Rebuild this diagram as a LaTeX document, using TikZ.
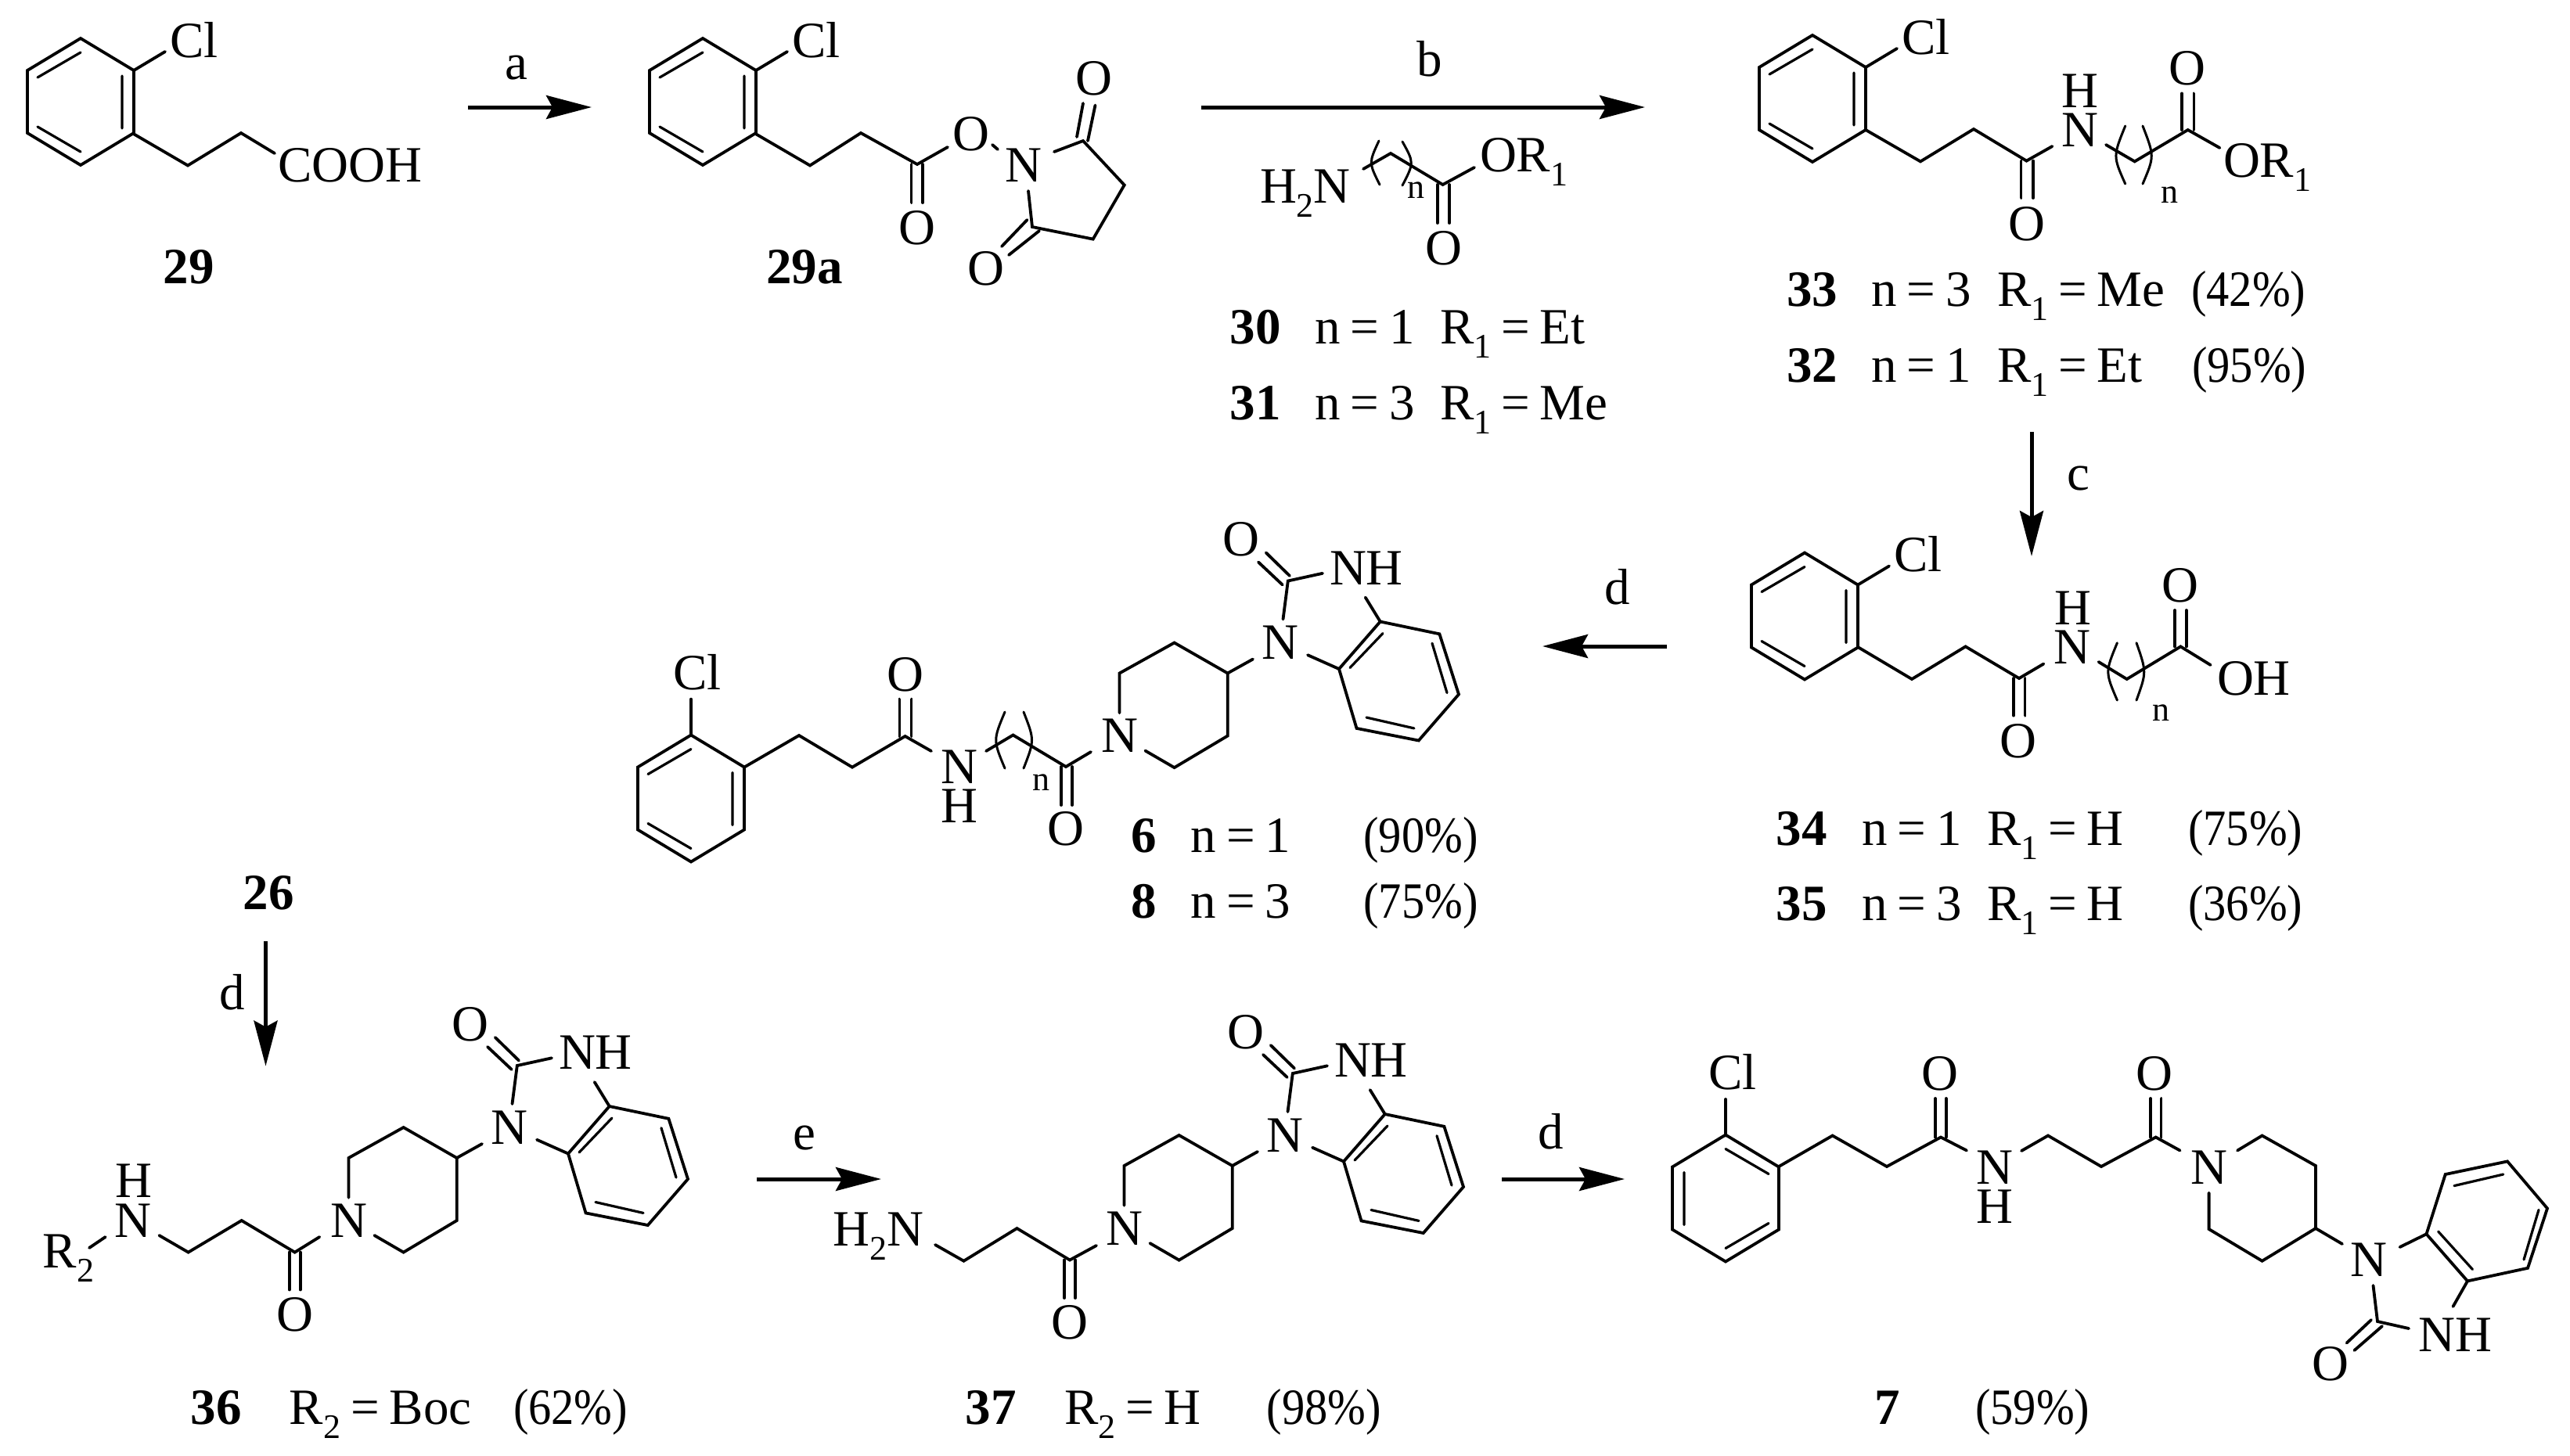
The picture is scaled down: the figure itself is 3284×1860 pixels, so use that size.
\documentclass[tikz,border=0pt]{standalone}
\usepackage{fontspec}
\setmainfont{Liberation Serif}
\usetikzlibrary{arrows.meta}
\newcommand\sbs[1]{\raisebox{-9pt}{\fontsize{22}{22}\selectfont #1}}
\newcommand\eqs{\hspace{6.5pt}=\hspace{6.5pt}}
\newcommand\pct[1]{\scalebox{.9}[1]{(#1\%)}}
\tikzset{
  bond/.style={line width=1.9pt,line cap=round,line join=miter},
  innerbond/.style={line width=1.6pt,line cap=round},
  paren/.style={line width=1.5pt,line cap=round},
  rxn/.style={line width=2.5pt,-{Stealth[length=29pt,width=15pt,inset=4pt]}},
  atom/.style={inner sep=0pt,outer sep=0pt,anchor=base,font=\fontsize{32.5}{36}\selectfont},
  txt/.style={inner sep=0pt,outer sep=0pt,anchor=base west,font=\fontsize{32.5}{36}\selectfont},
  cpd/.style={inner sep=0pt,outer sep=0pt,anchor=base,font=\fontsize{32.5}{36}\selectfont\bfseries},
}
% benzene ring, centre at the origin of the scope
\newcommand\ringA{%
  \draw[bond] (0,-81) -- (68,-40) -- (68,40) -- (0,81) -- (-68,40) -- (-68,-40) -- cycle;
  \draw[innerbond] (0,-63) -- (-55,-31) (53,-33) -- (53,34) (-55,32) -- (0,64);
}
% ring with Cl at upper right
\newcommand\clph[3]{%
  \begin{scope}[shift={(#2,#3)}]
    \ringA
    \draw[bond] (68,-40) -- (108,-64);
    \node[txt] (#1) at (114,-57) {Cl};
  \end{scope}}
% piperidinyl-benzimidazolone, coordinates as in compound 36, shifted
\newcommand\bim[3]{%
  \begin{scope}[shift={(#2,#3)}]
    \node[atom] (#1np) at (445.5,1581) {N};
    \node[atom] (#1nb) at (651,1462) {N};
    \node[atom] (#1o) at (601,1330) {O};
    \node[txt] (#1nh) at (714,1366.5) {NH};
    \draw[bond] (445.5,1530.6) -- (445.5,1480) -- (515.6,1441) -- (583.7,1480) -- (583.7,1560) -- (515.6,1600.6) -- (478.4,1579);
    \draw[bond] (583.7,1480) -- (616,1462);
    \draw[bond] (654.5,1411) -- (660.8,1362) -- (705,1352.3);
    \draw[bond] (623,1338) -- (653.8,1367) (632.8,1326) -- (663,1355.5);
    \draw[bond] (759.7,1383) -- (778.7,1414);
    \draw[bond] (778.7,1414) -- (854.4,1429.8) -- (879,1507) -- (827.8,1566) -- (748.5,1550.4) -- (726,1474.5) -- cycle;
    \draw[bond] (686,1456.7) -- (726,1474.5);
    \draw[innerbond] (782,1429) -- (740,1473) (845,1441.7) -- (864,1505) (822,1550.4) -- (761,1536.5);
  \end{scope}}
\begin{document}
\begin{tikzpicture}[x=0.5pt,y=-0.5pt]
\fill[white] (0,0) rectangle (3284,1860);
\useasboundingbox (0,0) rectangle (3284,1860);

% ---------- 29
\clph{clA}{103}{130}
\draw[bond] (170.5,171) -- (240,211.5) -- (308,170) -- (351,196);
\node[txt] (coohA) at (355,232) {COOH};
\node[cpd] (n29) at (241,362) {29};

% arrow a
\coordinate (aS) at (598,137); \coordinate (aE) at (756,137);
\draw[rxn] (aS) -- (aE);
\node[atom] (la) at (660,101) {a};

% ---------- 29a
\clph{clB}{898}{130}
\draw[bond] (965.5,171) -- (1035,211.5) -- (1100,170) -- (1172,210) -- (1211,188);
\draw[bond] (1164.5,210) -- (1164.5,259) (1179,210) -- (1179,259);
\node[atom] (oB1) at (1172,312) {O};
\node[atom] (oB2) at (1241,192) {O};
\draw[bond] (1268,185) -- (1275,191);
\node[atom] (nB) at (1308,232) {N};
\draw[bond] (1347,194) -- (1384,180) -- (1436.7,236.5) -- (1396.7,305.6) -- (1319,290) -- (1314,244);
\draw[bond] (1384,132) -- (1376,175) (1399.5,134.5) -- (1390,180);
\node[atom] (oB3) at (1398,121) {O};
\draw[bond] (1312.5,281) -- (1280,315) (1328,295) -- (1289,326);
\node[atom] (oB4) at (1260,364) {O};
\node[cpd] (n29a) at (1028,362) {29a};

% arrow b
\coordinate (bS) at (1535,137); \coordinate (bE) at (2102,137);
\draw[rxn] (bS) -- (bE);
\node[atom] (lb) at (1827,97) {b};

% reagent
\node[txt] (h2n) at (1610,259) {H\sbs{2}N};
\draw[bond] (1742,216) -- (1777,196) -- (1843.6,236) -- (1884,214);
\draw[bond] (1836.6,236) -- (1836.6,285) (1852,236) -- (1852,285);
\node[atom] (oR) at (1845,338) {O};
\node[txt] (orR) at (1891,219) {OR\sbs{1}};
\draw[paren] (1762,180) .. controls (1749,208) .. (1763,236);
\draw[paren] (1792,181) .. controls (1807,208) .. (1792,237);
\node[atom,font=\fontsize{22}{22}\selectfont] (nR) at (1809,253) {n};
\node[cpd] (n30) at (1604,439) {30};
\node[txt] (t30a) at (1680,439) {n\eqs 1};
\node[txt] (t30b) at (1840,439) {R\sbs{1}\eqs Et};
\node[cpd] (n31) at (1604,536) {31};
\node[txt] (t31a) at (1680,536) {n\eqs 3};
\node[txt] (t31b) at (1840,536) {R\sbs{1}\eqs Me};

% ---------- 33 / 32
\clph{clC}{2316}{126}
\draw[bond] (2384,166) -- (2454,206.4) -- (2522,165) -- (2589.5,205.6) -- (2622.4,187);
\draw[bond] (2582.5,205.6) -- (2582.5,253) (2598,205.6) -- (2598,253);
\node[atom] (oC1) at (2589.5,307.6) {O};
\node[atom] (nC) at (2658,187.8) {N};
\node[atom] (hC) at (2658,137) {H};
\draw[bond] (2691,185) -- (2727.7,206.4) -- (2795.7,166) -- (2836.4,189);
\draw[bond] (2788,166) -- (2788,119.4) (2803.4,166) -- (2803.4,119.4);
\node[atom] (oC2) at (2795,108) {O};
\node[txt] (orC) at (2841,226.6) {OR\sbs{1}};
\draw[paren] (2715.7,161) .. controls (2700,199.7) .. (2715.7,235);
\draw[paren] (2738,161) .. controls (2753,199.7) .. (2738,235);
\node[atom,font=\fontsize{22}{22}\selectfont] (nC1) at (2772,259) {n};
\node[cpd] (n33) at (2315.6,391.4) {33};
\node[txt] (t33a) at (2391,391.4) {n\eqs 3};
\node[txt] (t33b) at (2552,391.4) {R\sbs{1}\eqs Me};
\node[txt] (t33c) at (2800,391.4) {\pct{42}};
\node[cpd] (n32) at (2315.6,488) {32};
\node[txt] (t32a) at (2391,488) {n\eqs 1};
\node[txt] (t32b) at (2552,488) {R\sbs{1}\eqs Et};
\node[txt] (t32c) at (2801,488) {\pct{95}};

% arrow c
\coordinate (cS) at (2596,552); \coordinate (cE) at (2596,711);
\draw[rxn] (cS) -- (cE);
\node[atom] (lc) at (2656,626) {c};

% ---------- 34 / 35
\clph{clD}{2306}{787.5}
\draw[bond] (2374,827) -- (2443,868) -- (2511.6,826.4) -- (2580,867) -- (2611.4,848.5);
\draw[bond] (2573,867) -- (2573,914.6) (2587.5,867) -- (2587.5,914.6);
\node[atom] (oD1) at (2579,968) {O};
\node[atom] (nD) at (2647.6,848.5) {N};
\node[atom] (hD) at (2649,798) {H};
\draw[bond] (2681.6,846) -- (2717.7,868) -- (2786.4,826.4) -- (2824.7,850);
\draw[bond] (2779,826.4) -- (2779,780) (2793.6,826.4) -- (2793.6,780);
\node[atom] (oD2) at (2786.4,769) {O};
\node[txt] (ohD) at (2833,888) {OH};
\draw[paren] (2705.4,821.7) .. controls (2690,859) .. (2705.4,895);
\draw[paren] (2730,821.7) .. controls (2743,859) .. (2730,895);
\node[atom,font=\fontsize{22}{22}\selectfont] (nD1) at (2761,921.7) {n};
\node[cpd] (n34) at (2302,1080) {34};
\node[txt] (t34a) at (2379,1080) {n\eqs 1};
\node[txt] (t34b) at (2539,1080) {R\sbs{1}\eqs H};
\node[txt] (t34c) at (2796,1080) {\pct{75}};
\node[cpd] (n35) at (2302,1176.7) {35};
\node[txt] (t35a) at (2379,1176.7) {n\eqs 3};
\node[txt] (t35b) at (2539,1176.7) {R\sbs{1}\eqs H};
\node[txt] (t35c) at (2796,1176.7) {\pct{36}};

% arrow d (to 6/8)
\coordinate (dS) at (2130,826); \coordinate (dE) at (1971,826);
\draw[rxn] (dS) -- (dE);
\node[atom] (ld1) at (2067,772) {d};

% ---------- 6 / 8
\begin{scope}[shift={(883,1020.5)}]\ringA\end{scope}
\draw[bond] (883,940) -- (883,893.6);
\node[atom] (clE) at (891,881.7) {Cl};
\draw[bond] (951,980.6) -- (1021,940) -- (1089,980.6) -- (1156.6,941) -- (1190,960);
\draw[bond] (1149.4,941) -- (1149.4,893.6) (1164.5,941) -- (1164.5,893.6);
\node[atom] (oE1) at (1156.6,883) {O};
\node[atom] (nE) at (1226,1001.6) {N};
\node[atom] (hE) at (1226,1051.8) {H};
\draw[bond] (1260,960) -- (1294.5,939.5) -- (1362,980) -- (1394,961);
\draw[bond] (1356,980) -- (1356,1029) (1370,980) -- (1370,1029);
\node[atom] (oE2) at (1362,1080.6) {O};
\draw[paren] (1284,910) .. controls (1269,946) .. (1284,982);
\draw[paren] (1308,910) .. controls (1322,946) .. (1308,982);
\node[atom,font=\fontsize{22}{22}\selectfont] (nE1) at (1330,1010.7) {n};
\bim{e}{985}{-619.5}
\node[cpd] (n6) at (1462,1089.7) {6};
\node[txt] (t6a) at (1521.7,1089.7) {n\eqs 1};
\node[txt] (t6b) at (1742.5,1089.7) {\pct{90}};
\node[cpd] (n8) at (1462,1173.6) {8};
\node[txt] (t8a) at (1521.7,1173.6) {n\eqs 3};
\node[txt] (t8b) at (1742.5,1173.6) {\pct{75}};

% 26 and arrow d
\node[cpd] (n26) at (343,1162) {26};
\coordinate (d2S) at (339.5,1203); \coordinate (d2E) at (339.5,1362.6);
\draw[rxn] (d2S) -- (d2E);
\node[atom] (ld2) at (297,1290) {d};

% ---------- 36
\node[atom] (nF) at (170,1581) {N};
\node[atom] (hF) at (171,1530.6) {H};
\node[txt] (r2F) at (54.7,1620.8) {R\sbs{2}};
\draw[bond] (114,1595) -- (134.7,1581);
\draw[bond] (203.4,1579) -- (240.6,1600.6) -- (308.7,1560) -- (376.7,1600.6) -- (408.3,1581);
\draw[bond] (369.7,1600.6) -- (369.7,1648.5) (383.7,1600.6) -- (383.7,1648.5);
\node[atom] (oF) at (377.4,1701) {O};
\bim{f}{0}{0}
\node[cpd] (n36) at (276,1820.5) {36};
\node[txt] (t36a) at (369.7,1820.5) {R\sbs{2}\eqs Boc};
\node[txt] (t36b) at (656,1820.5) {\pct{62}};

% arrow e
\coordinate (eS) at (967,1507); \coordinate (eE) at (1126,1507);
\draw[rxn] (eS) -- (eE);
\node[atom] (le) at (1028,1469) {e};

% ---------- 37
\node[txt] (h2nG) at (1064.5,1592) {H\sbs{2}N};
\draw[bond] (1195,1591) -- (1231.5,1611.7) -- (1299.5,1570) -- (1367,1610.5) -- (1401,1592);
\draw[bond] (1360,1610.5) -- (1360,1659) (1374,1610.5) -- (1374,1659);
\node[atom] (oG) at (1367,1711) {O};
\bim{g}{991}{10}
\node[cpd] (n37) at (1266,1820.5) {37};
\node[txt] (t37a) at (1360,1820.5) {R\sbs{2}\eqs H};
\node[txt] (t37b) at (1618.7,1820.5) {\pct{98}};

% arrow d (to 7)
\coordinate (d3S) at (1919,1507); \coordinate (d3E) at (2076,1507);
\draw[rxn] (d3S) -- (d3E);
\node[atom] (ld3) at (1982,1468.5) {d};

% ---------- 7
\begin{scope}[shift={(2205,1531.5)},xscale=-1]\ringA\end{scope}
\draw[bond] (2205,1451.5) -- (2205,1405);
\node[atom] (clH) at (2214,1392) {Cl};
\draw[bond] (2273,1491) -- (2341.6,1451.5) -- (2411,1491) -- (2480,1453.5) -- (2513,1470.5);
\draw[bond] (2473,1453.5) -- (2473,1404) (2486.6,1453.5) -- (2486.6,1404);
\node[atom] (oH1) at (2479,1393) {O};
\node[atom] (nH1) at (2548.5,1513) {N};
\node[atom] (hH1) at (2548.5,1563) {H};
\draw[bond] (2583,1471) -- (2617,1451.5) -- (2685,1491) -- (2754.7,1453.5) -- (2785.6,1470.5);
\draw[bond] (2748,1453.5) -- (2748,1404) (2761.5,1453.5) -- (2761.5,1404);
\node[atom] (oH2) at (2753,1393) {O};
\node[atom] (nH2) at (2822.6,1513) {N};
\draw[bond] (2859,1470.5) -- (2890.6,1451.5) -- (2959,1490) -- (2959,1570) -- (2890.6,1611.7) -- (2822.6,1571) -- (2822.6,1524.7);
\draw[bond] (2959,1570) -- (2993,1590);
\node[atom] (nH3) at (3026.5,1631.4) {N};
\draw[bond] (3032.5,1643) -- (3038,1689) -- (3078,1698);
\node[txt] (nhH) at (3090.7,1727) {NH};
\draw[bond] (2998.6,1716.5) -- (3030,1687) (3008.4,1726) -- (3044,1695);
\node[atom] (oH3) at (2978,1764) {O};
\draw[bond] (3134.5,1670) -- (3153,1637.4);
\draw[bond] (3153,1637.4) -- (3230,1620.8) -- (3255,1544.5) -- (3204,1484.4) -- (3124.7,1501) -- (3100.5,1577.3) -- cycle;
\draw[bond] (3066.5,1594) -- (3100.5,1577.3);
\draw[innerbond] (3159.4,1622.4) -- (3115.6,1574) (3225,1610) -- (3244,1546.4) (3198.7,1501) -- (3136,1515.6);
\node[cpd] (n7) at (2412,1820.5) {7};
\node[txt] (t7a) at (2524,1820.5) {\pct{59}};
\end{tikzpicture}
\end{document}
